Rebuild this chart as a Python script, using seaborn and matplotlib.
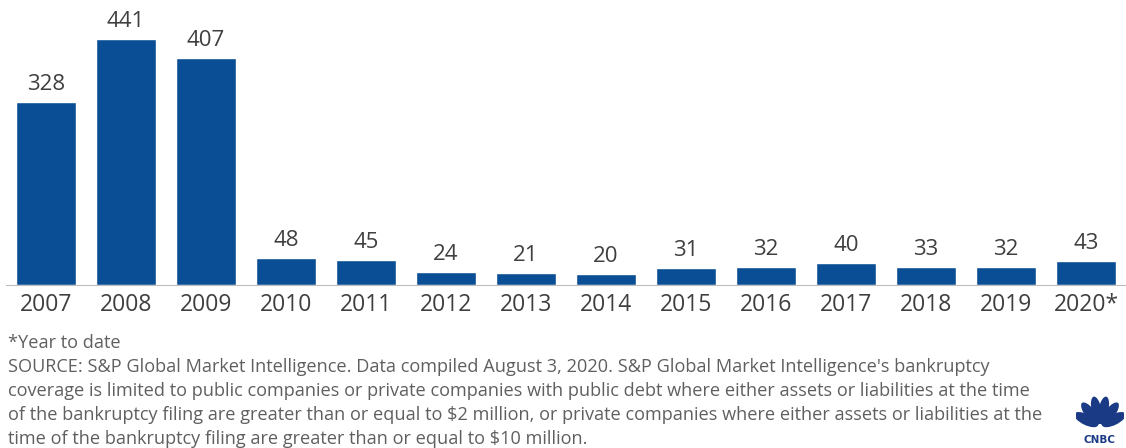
import math
import matplotlib
matplotlib.use("Agg")
import matplotlib.pyplot as plt
import seaborn as sns
import pandas as pd
from matplotlib.patches import Ellipse

years = ["2007", "2008", "2009", "2010", "2011", "2012", "2013",
         "2014", "2015", "2016", "2017", "2018", "2019", "2020*"]
filings = [328, 441, 407, 48, 45, 24, 21, 20, 31, 32, 40, 33, 32, 43]

footnote = "*Year to date"
source_lines = [
    "SOURCE: S&P Global Market Intelligence. Data compiled August 3, 2020. S&P Global Market Intelligence's bankruptcy",
    "coverage is limited to public companies or private companies with public debt where either assets or liabilities at the time",
    "of the bankruptcy filing are greater than or equal to $2 million, or private companies where either assets or liabilities at the",
    "time of the bankruptcy filing are greater than or equal to $10 million.",
]

BAR = "#0A4F95"
TXT = "#3f3f3f"
NOTE = "#5f5f5f"
LOGO = "#1b3a86"

sns.set_theme(style="white")
plt.rcParams["font.family"] = ["Open Sans", "DejaVu Sans"]

df = pd.DataFrame({"year": years, "filings": filings})

fig = plt.figure(figsize=(11.26, 4.48), dpi=100)
ax = fig.add_axes([6 / 1126, (448 - 285) / 448, 1120 / 1126, 268 / 448])

sns.barplot(data=df, x="year", y="filings", color=BAR, width=0.75,
            saturation=1, ax=ax)
ax.set_xlim(-0.5, len(years) - 0.5)
ax.set_ylim(0, 480)
ax.set_xlabel("")
ax.set_ylabel("")
ax.set_yticks([])
for s in ["top", "right", "left"]:
    ax.spines[s].set_visible(False)
ax.spines["bottom"].set_color("#bdbdbd")
ax.spines["bottom"].set_linewidth(0.8)
ax.tick_params(axis="x", length=0, pad=6, labelsize=16.5, labelcolor=TXT)

for i, v in enumerate(filings):
    ax.annotate(str(v), (i, v), xytext=(0, 5), textcoords="offset points",
                ha="center", va="bottom", fontsize=16, color=TXT)

fig.text(8 / 1126, 1 - 343 / 448, footnote, fontsize=13.1, color=NOTE,
         va="center", ha="left")
for k, line in enumerate(source_lines):
    fig.text(8 / 1126, 1 - (367 + 24 * k) / 448, line, fontsize=13.1,
             color=NOTE, va="center", ha="left")

# peacock mark in the lower right corner
logo = fig.add_axes([1076 / 1126, 3 / 448, 48 / 1126, 52 / 448])
logo.set_xlim(0, 1)
logo.set_ylim(0, 1)
logo.axis("off")
for ang in [-66, -40, -13, 13, 40, 66]:
    r = 0.30
    cx = 0.5 + r * math.sin(math.radians(ang)) * 1.05
    cy = 0.36 + r * math.cos(math.radians(ang)) * 1.05
    logo.add_patch(Ellipse((cx, cy), 0.21, 0.54, angle=-ang,
                           color=LOGO, lw=0))
logo.text(0.5, 0.1, "CNBC", ha="center", va="center", fontsize=7.5,
          fontweight="bold", color=LOGO, family="DejaVu Sans")

fig.savefig("out.png", dpi=100, facecolor="white")
